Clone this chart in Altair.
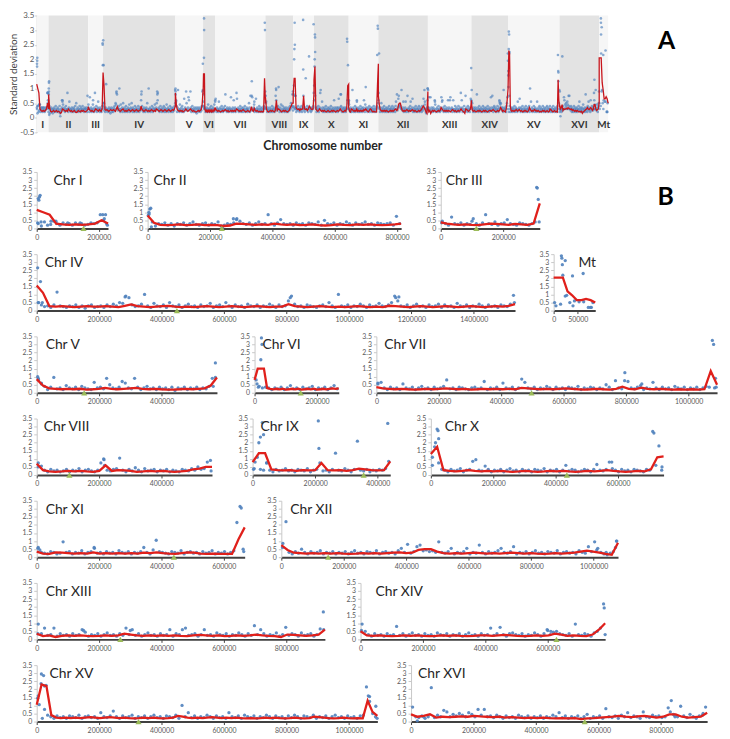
import altair as alt
import pandas as pd

CHROMS = ["I", "II", "III", "IV", "V", "VI", "VII", "VIII", "IX", "X",
          "XI", "XII", "XIII", "XIV", "XV", "XVI", "Mt"]
LEN_KB = [230, 813, 317, 1532, 577, 270, 1091, 563, 440, 746,
          667, 1078, 924, 784, 1091, 948, 86]
CEN_KB = [151, 238, 114, 449, 152, 148, 497, 105, 355, 436,
          440, 150, 268, 628, 326, 556, None]
# width of each chromosome in panel A (window counts)
BAND_W = [12, 40, 15, 73, 28, 12, 51, 28, 21, 35, 30, 50, 44, 37, 52, 40, 9]

# ---- window standard deviations (evenly spaced windows along each chromosome) ----
sd_I = [0.3, 0.15, 0.4, 0.2, 0.25, 0.45, 0.3, 0.2, 0.35, 0.25, 0.3, 0.2, 0.35, 0.25,
        0.3, 0.2, 0.25, 0.35, 0.3, 0.35, 0.85, 0.5, 0.3]
sd_II = [0.9, 0.4, 0.15, 0.3, 0.25, 0.35, 0.2, 0.3, 0.15, 0.3,
         0.25, 0.35, 0.2, 0.3, 0.4, 0.25, 0.2, 0.3, 0.35, 0.2,
         0.3, 0.25, 0.4, 0.15, 0.2, 0.3, 0.25, 0.35, 0.6, 0.45,
         0.3, 0.25, 0.35, 0.2, 0.3, 0.4, 0.25, 0.3, 0.85, 0.3,
         0.2, 0.35, 0.55, 0.3, 0.25, 0.3, 0.2, 0.35, 0.25, 0.3,
         0.2, 0.35, 0.3, 0.25, 0.4, 0.2, 0.5, 0.3, 0.25, 0.35,
         0.2, 0.3, 0.25, 0.4, 0.3, 0.2, 0.35, 0.25, 0.3, 0.4,
         0.25, 0.3, 0.2, 0.35, 0.3, 0.25, 0.3, 0.35, 0.2, 0.75, 0.3]
sd_III = [0.45, 0.3, 0.2, 0.7, 0.3, 0.25, 0.35, 0.2, 0.3, 0.25, 0.6, 0.3, 0.2, 0.35,
          0.85, 0.3, 0.25, 0.4, 0.2, 0.3, 0.35, 0.55, 0.3, 0.25, 0.2, 0.35, 0.3,
          0.25, 0.2, 0.3, 0.4, 1.8]
sd_IV = [0.5, 0.35, 0.25, 0.3, 0.2, 0.35, 1.15, 0.3, 0.25, 0.2,
         0.3, 0.25, 0.35, 0.2, 0.3, 0.15, 0.3, 0.35, 0.2, 0.25,
         0.3, 0.2, 0.35, 0.25, 0.4, 0.3, 0.5, 0.45, 0.9, 0.8,
         0.35, 0.25, 0.3, 0.4, 1.0, 0.3, 0.2, 0.45, 0.3, 0.25,
         0.35, 0.2, 0.5, 0.3, 0.25, 0.35, 0.2, 0.3, 0.4, 0.25,
         0.3, 0.2, 0.35, 0.25, 0.3, 0.45, 0.2, 0.3, 0.35, 0.25,
         0.5, 0.3, 0.2, 0.35, 0.25, 0.3, 0.2, 0.4, 0.3, 0.25,
         0.35, 0.2, 0.3, 0.25, 0.4, 0.3, 0.2, 0.35, 0.25, 0.3,
         0.6, 0.9, 0.4, 0.25, 0.3, 0.2, 0.35, 0.3, 0.25, 0.2,
         0.3, 0.35, 0.25, 0.5, 0.3, 0.2, 1.0, 0.3, 0.25, 0.35,
         0.2, 0.3, 0.25, 0.4, 0.3, 0.2, 0.35, 0.25, 0.3, 0.45,
         0.3, 0.25, 0.35, 0.5, 0.9, 0.6, 0.3, 0.25, 0.35, 0.2,
         0.3, 0.4, 0.25, 0.3, 0.2, 0.35, 0.25, 0.3, 0.4, 0.2,
         0.35, 0.25, 0.3, 0.2, 0.45, 0.3, 0.25, 0.35, 0.2, 0.3,
         0.25, 0.4, 0.3, 0.2, 0.35, 0.25, 0.3, 0.2, 0.35, 0.3,
         0.25, 0.4, 0.95]
sd_V = [0.9, 0.6, 0.4, 0.2, 0.35, 0.95, 0.25, 0.3, 0.2, 0.45,
        0.3, 0.25, 0.35, 0.2, 0.4, 0.3, 0.25, 0.2, 0.65, 0.3,
        0.35, 0.25, 0.9, 0.5, 0.3, 0.25, 0.35, 0.7, 0.6, 0.3,
        0.25, 0.9, 0.35, 0.2, 0.3, 0.4, 0.25, 0.3, 0.2, 0.35,
        0.25, 0.3, 0.2, 0.35, 0.15, 0.3, 0.25, 0.35, 0.2, 0.3,
        0.25, 0.35, 0.2, 0.3, 0.25, 0.4, 0.9, 1.85]
sd_VI = [0.8, 0.4, 0.3, 0.35, 0.3, 0.2, 0.3, 0.25, 0.35, 0.2, 0.3, 0.45, 0.25, 0.3,
         0.2, 0.35, 0.25, 0.3, 0.4, 0.2, 0.3, 0.25, 0.35, 0.2, 0.3, 0.45, 0.25]
sd_VII = [0.6, 0.65, 0.3, 0.2, 0.35, 0.25, 0.3, 0.2, 0.55, 0.3,
          0.25, 0.35, 0.2, 0.3, 0.4, 0.25, 0.3, 0.2, 0.35, 0.25,
          0.3, 0.4, 0.8, 0.25, 0.3, 0.2, 0.35, 0.3, 0.25, 0.2,
          0.3, 0.35, 0.25, 0.3, 0.7, 0.2, 0.3, 0.25, 0.35, 0.2,
          0.6, 0.3, 0.25, 0.35, 0.2, 0.3, 0.85, 0.65, 0.3, 0.25,
          0.35, 0.2, 0.3, 0.25, 0.4, 0.3, 0.2, 0.35, 0.25, 0.3,
          0.2, 0.35, 0.3, 0.25, 0.4, 0.2, 0.3, 0.25, 0.35, 0.3,
          0.2, 0.3, 0.25, 0.5, 0.35, 0.2, 0.75, 0.3, 0.25, 1.25,
          0.7, 0.3, 0.25, 0.35, 0.45, 0.2, 0.3, 0.25, 0.65, 0.3,
          0.2, 0.35, 0.25, 0.3, 0.2, 0.4, 0.3, 0.25, 0.35, 0.2,
          0.3, 0.25, 0.35, 0.2, 0.3, 0.4, 0.35, 3.25, 0.9]
sd_VIII = [0.75, 0.55, 0.3, 0.2, 0.35, 0.25, 0.3, 0.2, 0.25, 0.35,
           0.2, 0.3, 0.25, 0.4, 0.2, 0.3, 0.35, 0.25, 0.2, 0.3,
           0.75, 0.95, 0.3, 0.25, 0.35, 0.4, 1.05, 0.3, 0.2, 0.35,
           0.25, 0.45, 0.3, 0.2, 0.4, 0.25, 0.3, 0.35, 0.2, 0.3,
           0.25, 0.35, 0.2, 0.3, 0.25, 0.2, 0.35, 0.3, 0.25, 0.4,
           0.3, 0.5, 0.35, 0.4, 0.8, 0.9]
sd_IX = [0.4, 1.1, 0.35, 0.3, 0.75, 0.3, 0.2, 0.35, 0.25, 0.3,
         0.4, 0.25, 0.3, 0.2, 0.35, 0.3, 0.25, 0.4, 0.2, 0.3,
         0.35, 0.75, 0.25, 0.3, 0.2, 0.35, 1.35, 0.3, 0.25, 0.4,
         0.3, 0.2, 0.35, 2.1, 0.3, 0.25, 0.35, 0.2, 0.3, 0.25,
         0.35, 0.3, 0.4, 0.85]
sd_X = [1.1, 2.0, 0.75, 0.35, 0.3, 0.2, 0.35, 0.25, 0.3, 0.4,
        0.2, 0.3, 0.35, 0.85, 0.95, 0.3, 0.25, 0.55, 0.35, 0.2,
        0.3, 0.25, 0.35, 0.2, 0.3, 0.4, 0.25, 0.3, 0.2, 0.35,
        0.25, 0.3, 0.2, 0.35, 0.3, 0.25, 0.4, 0.2, 0.3, 0.25,
        0.35, 0.2, 0.3, 0.6, 0.25, 0.35, 0.3, 0.2, 0.25, 0.35,
        0.3, 0.2, 0.35, 0.65, 0.3, 0.25, 0.35, 0.8, 0.4, 0.3,
        0.2, 0.35, 0.25, 0.3, 0.2, 0.35, 0.3, 0.25, 0.2, 0.35,
        0.3, 2.7, 0.6, 1.8, 0.5]
sd_XI = [0.6, 0.3, 0.25, 0.2, 0.35, 0.3, 0.2, 0.25, 0.95, 0.3,
         0.35, 0.2, 0.3, 0.25, 0.4, 0.2, 0.3, 0.35, 0.6, 0.25,
         0.3, 0.2, 0.35, 0.25, 0.3, 0.2, 0.4, 0.3, 0.25, 0.35,
         0.2, 0.3, 0.25, 0.35, 0.6, 0.3, 0.2, 0.45, 1.05, 0.35,
         0.3, 0.25, 0.2, 0.35, 0.3, 0.25, 0.4, 0.2, 0.3, 0.35,
         0.25, 0.3, 0.2, 0.35, 0.25, 0.3, 0.4, 0.2, 0.3, 0.25,
         0.35, 0.2, 0.3, 0.4, 2.15, 3.15, 0.5]
sd_XII = [0.85, 2.2, 0.3, 0.2, 0.35, 0.25, 0.5, 0.3, 0.2, 0.35,
          0.25, 0.3, 0.4, 0.2, 0.3, 0.25, 0.35, 0.2, 0.3, 0.25,
          0.35, 0.2, 0.3, 0.4, 0.25, 0.3, 0.2, 0.35, 0.3, 0.25,
          0.4, 0.2, 0.3, 0.35, 0.25, 0.3, 0.2, 0.4, 0.55, 0.3,
          0.8, 0.25, 0.35, 0.65, 0.75, 0.4, 0.45, 0.35, 0.4, 0.3,
          0.95, 0.3, 0.25, 0.35, 0.55, 0.2, 0.3, 0.25, 0.35, 0.55,
          0.2, 0.3, 0.25, 0.75, 0.3, 0.2, 0.35, 0.25, 0.3, 0.4,
          0.55, 0.3, 0.25, 0.35, 0.65, 0.2, 0.3, 0.25, 0.35, 0.2,
          0.3, 0.4, 0.25, 0.3, 0.2, 0.35, 0.3, 0.25, 0.4, 0.2,
          0.3, 0.35, 0.25, 0.3, 0.2, 0.4, 0.3, 0.25, 0.65, 0.35,
          0.95, 0.55, 0.3, 0.2, 0.15, 0.25, 0.35, 1.0]
sd_XIII = [0.95, 0.35, 0.7, 0.25, 0.3, 0.7, 0.2, 0.35, 0.25, 0.3,
           0.2, 0.35, 0.25, 0.3, 0.6, 0.45, 0.2, 0.3, 0.25, 0.35,
           0.2, 0.3, 0.4, 0.25, 0.3, 0.2, 0.35, 0.25, 0.7, 0.3,
           0.6, 0.25, 0.35, 0.2, 0.3, 0.4, 0.25, 0.3, 0.2, 0.35,
           0.25, 0.3, 0.6, 0.2, 0.35, 0.3, 0.6, 0.7, 0.25, 0.3,
           0.35, 0.2, 0.3, 0.6, 0.25, 0.3, 0.2, 0.4, 0.3, 0.25,
           0.35, 0.2, 0.3, 0.25, 0.4, 0.3, 0.2, 0.35, 0.25, 0.85,
           0.3, 0.6, 0.35, 0.2, 0.3, 0.25, 0.4, 0.2, 0.3, 0.75,
           0.25, 0.35, 0.3, 0.2, 0.4, 0.25, 0.3, 0.35, 0.2, 0.3,
           0.65, 1.7]
sd_XIV = [0.95, 0.5, 0.3, 0.2, 0.35, 0.25, 0.3, 0.2, 0.35, 0.25,
          0.3, 0.8, 0.25, 0.35, 0.2, 0.3, 0.4, 0.25, 0.3, 0.2,
          0.35, 0.25, 0.3, 0.2, 0.4, 0.3, 0.25, 0.35, 0.2, 0.3,
          0.25, 0.35, 0.2, 0.3, 0.4, 0.25, 0.3, 0.2, 0.35, 0.25,
          0.3, 0.7, 0.25, 0.35, 0.75, 0.3, 0.2, 0.35, 0.4, 0.3,
          0.25, 0.35, 0.2, 0.3, 0.25, 0.4, 0.3, 0.2, 0.35, 0.6,
          0.3, 0.45, 0.5, 0.35, 0.3, 0.25, 0.35, 0.2, 0.95, 0.3,
          0.25, 0.35, 0.3, 0.2, 0.4, 0.5, 0.7, 2.2]
sd_XV = [1.6, 2.95, 0.75, 0.4, 0.3, 0.2, 0.35, 0.25, 0.3, 0.2,
         0.35, 0.3, 0.25, 0.4, 0.2, 0.3, 0.35, 0.25, 0.3, 0.2,
         0.55, 0.3, 0.25, 0.35, 0.65, 0.3, 0.2, 0.35, 0.25, 0.3,
         0.4, 0.2, 0.3, 0.25, 0.35, 0.2, 0.3, 0.4, 0.25, 0.3,
         0.2, 0.35, 0.3, 0.25, 0.4, 0.2, 1.0, 0.3, 0.55, 0.25,
         0.35, 0.2, 0.3, 0.25, 0.4, 0.3, 0.2, 0.35, 0.25, 0.3,
         0.2, 0.55, 0.3, 0.25, 0.35, 0.2, 0.4, 0.3, 0.25, 0.35,
         0.2, 0.3, 0.25, 0.4, 0.3, 0.2, 0.35, 0.25, 0.3, 0.2,
         0.35, 0.25, 0.4, 0.3, 0.2, 0.35, 0.3, 0.25, 0.4, 0.2,
         0.3, 0.25, 0.35, 0.2, 0.3, 0.4, 0.25, 0.3, 0.2, 0.35,
         0.25, 0.3, 0.2, 0.35, 0.4, 2.15, 1.55, 0.5, 0.95]
sd_XVI = [0.9, 0.3, 0.25, 0.35, 0.2, 0.3, 2.1, 0.25, 0.4, 0.3,
          0.7, 0.6, 0.3, 0.45, 0.35, 0.5, 0.4, 0.3, 0.55, 0.45,
          0.3, 0.75, 0.4, 0.75, 0.3, 0.35, 0.25, 0.4, 0.3, 0.2,
          0.35, 0.25, 0.3, 0.2, 0.4, 0.3, 0.25, 0.35, 0.2, 0.3,
          0.25, 0.35, 0.2, 0.3, 0.25, 0.4, 0.3, 0.55, 0.25, 0.35,
          0.2, 0.3, 0.25, 0.35, 0.2, 0.3, 0.45, 0.2, 0.3, 0.25,
          0.35, 0.2, 0.8, 0.3, 0.25, 0.35, 0.2, 0.4, 0.3, 0.55,
          0.25, 0.35, 0.3, 0.2, 0.6, 0.3, 0.25, 0.4, 0.3, 0.35,
          0.25, 0.3, 0.85, 1.3, 0.4, 0.3, 0.95, 0.35, 0.25, 0.45,
          0.3, 0.2, 0.35, 0.4, 0.9]
sd_Mt = [0.3, 0.4, 0.9, 0.5, 0.6, 0.55, 0.55, 0.2, 0.5]

# ---- additional windows (kb, sd) that overlap the regular ones ----
ex_I = [(5, 1.85), (7, 1.75), (9, 1.95), (11, 2.05), (3, 0.35), (14, 0.4), (213, 0.85),
        (218, 0.6), (222, 0.85), (228, 0.2), (46, 0.45), (62, 0.45), (100, 0.35), (140, 0.35)]
ex_II = [(4, 1.0), (7, 1.2), (10, 1.25), (2, 0.8), (275, 0.6), (285, 0.55), (12, 0.1), (240, 0.05)]
ex_III = [(3, 0.35), (307, 2.55), (309, 2.5), (315, 0.4), (100, 0.45)]
ex_IV = [(3, 2.65), (12, 1.8), (6, 0.5), (18, 0.5), (283, 0.85), (812, 0.8), (1150, 0.8),
         (1160, 0.85), (1530, 0.5)]
ex_V = [(3, 1.0), (6, 0.8), (15, 0.55), (565, 0.4), (572, 0.95)]
ex_VI = [(20, 2.05), (22, 3.4), (24, 3.0), (8, 0.55), (12, 0.35)]
ex_VII = [(1080, 3.0), (1083, 0.3), (1088, 0.35), (5, 0.55), (795, 0.75), (850, 0.55)]
ex_VIII = [(215, 1.0), (218, 0.6), (560, 0.25), (5, 0.5)]
ex_IX = [(20, 2.0), (25, 2.35), (31, 3.25), (35, 2.5), (210, 3.35), (212, 1.65), (432, 3.2),
         (3, 0.35), (45, 0.75), (8, 0.8)]
ex_X = [(20, 2.85), (23, 2.75), (25, 2.25), (12, 1.75), (715, 2.6), (740, 0.3), (580, 0.8), (5, 0.6)]
ex_XI = [(656, 3.05), (664, 0.35), (4, 0.55), (185, 0.55), (10, 0.45)]
ex_XII = [(4, 0.6), (1074, 1.0), (1070, 0.6), (1010, 0.45), (1040, 0.3)]
ex_XIII = [(4, 0.35), (920, 0.6), (150, 0.55), (300, 0.55)]
ex_XIV = [(781, 1.95), (784, 0.3), (3, 0.55), (600, 0.55), (610, 0.5)]
ex_XV = [(3, 1.45), (8, 1.05), (14, 2.35), (22, 2.85), (30, 2.25), (25, 2.2), (18, 0.2),
         (1062, 1.6), (1066, 1.25), (1085, 0.3), (1090, 0.2)]
ex_XVI = [(20, 0.05), (830, 0.6), (840, 0.45), (845, 0.3), (935, 0.5), (40, 0.3)]
ex_Mt = [(2, 0.5), (16, 3.4), (17, 3.25), (18, 2.85), (24, 3.1), (19, 2.2), (27, 0.95),
         (39, 2.15), (40, 0.3), (61, 2.3), (76, 0.2), (78, 0.2)]

# ---- moving average (red line), evenly spaced from start to end ----
red_I = [1.15, 1.0, 0.85, 0.3, 0.25, 0.22, 0.25, 0.22, 0.25, 0.3, 0.5, 0.3]
red_II = [0.8, 0.35, 0.22, 0.2, 0.22, 0.25, 0.2, 0.22, 0.25, 0.2, 0.22, 0.2, 0.15, 0.18,
          0.3, 0.28, 0.25, 0.22, 0.25, 0.22, 0.3, 0.25, 0.22, 0.25, 0.2, 0.22, 0.25, 0.2,
          0.18, 0.2, 0.25, 0.22, 0.2, 0.25, 0.22, 0.25, 0.22, 0.2, 0.22, 0.25, 0.3]
red_III = [0.38, 0.3, 0.25, 0.22, 0.25, 0.22, 0.2, 0.25, 0.3, 0.28, 0.25, 0.22, 0.28,
           0.25, 0.22, 0.3, 1.55]
red_IV = [1.55, 1.1, 0.28, 0.25, 0.28, 0.25, 0.22, 0.25, 0.28, 0.25,
          0.25, 0.28, 0.25, 0.22, 0.3, 0.38, 0.28, 0.25, 0.22, 0.25,
          0.28, 0.3, 0.25, 0.22, 0.25, 0.22, 0.25, 0.28, 0.25, 0.22,
          0.25, 0.28, 0.25, 0.22, 0.25, 0.28, 0.25, 0.22, 0.25, 0.25,
          0.4, 0.28, 0.25, 0.22, 0.25, 0.28, 0.25, 0.22, 0.25, 0.22,
          0.25, 0.28, 0.25, 0.22, 0.25, 0.22, 0.3, 0.28, 0.25, 0.22,
          0.25, 0.28, 0.25, 0.22, 0.25, 0.28, 0.25, 0.22, 0.25, 0.28,
          0.25, 0.22, 0.25, 0.28, 0.25, 0.3, 0.4]
red_V = [0.85, 0.45, 0.28, 0.25, 0.22, 0.25, 0.22, 0.25, 0.2, 0.22, 0.25, 0.3, 0.25, 0.22,
         0.25, 0.28, 0.3, 0.25, 0.22, 0.25, 0.22, 0.2, 0.2, 0.22, 0.25, 0.22, 0.25, 0.28,
         0.45, 0.95]
red_VI = [0.8, 1.5, 1.5, 1.5, 0.3, 0.25, 0.22, 0.25, 0.22, 0.25, 0.2, 0.22, 0.25, 0.22,
          0.25, 0.2, 0.22, 0.25, 0.22, 0.25, 0.2, 0.22, 0.25, 0.22, 0.25, 0.28, 0.25, 0.28]
red_VII = [0.35, 0.28, 0.25, 0.22, 0.25, 0.22, 0.2, 0.22, 0.25, 0.22,
           0.25, 0.28, 0.25, 0.22, 0.25, 0.2, 0.22, 0.25, 0.22, 0.25,
           0.22, 0.25, 0.22, 0.3, 0.28, 0.25, 0.22, 0.25, 0.22, 0.25,
           0.28, 0.25, 0.22, 0.2, 0.22, 0.25, 0.22, 0.2, 0.25, 0.38,
           0.25, 0.22, 0.32, 0.25, 0.22, 0.25, 0.22, 0.2, 0.22, 0.2,
           0.22, 0.2, 0.22, 1.35, 0.5]
red_VIII = [0.7, 0.3, 0.22, 0.2, 0.22, 0.25, 0.22, 0.25, 0.22, 0.2, 0.25, 0.6, 0.25, 0.3,
            0.28, 0.25, 0.2, 0.22, 0.25, 0.22, 0.25, 0.22, 0.2, 0.22, 0.25, 0.35, 0.4, 0.5, 0.5]
red_IX = [0.8, 1.35, 1.35, 0.35, 0.3, 0.28, 0.3, 0.25, 0.3, 0.28, 0.3, 0.75, 0.3, 0.28,
          0.3, 0.25, 0.3, 0.4, 0.35, 0.3, 0.28, 0.3, 0.85]
red_X = [1.3, 1.75, 0.3, 0.25, 0.22, 0.25, 0.3, 0.25, 0.22, 0.25,
         0.22, 0.25, 0.22, 0.2, 0.22, 0.25, 0.22, 0.2, 0.22, 0.25,
         0.22, 0.25, 0.22, 0.2, 0.22, 0.25, 0.22, 0.25, 0.3, 0.25,
         0.22, 0.2, 0.22, 0.25, 0.22, 0.35, 1.1, 1.15]
red_XI = [0.35, 0.22, 0.2, 0.3, 0.28, 0.25, 0.22, 0.25, 0.22, 0.3,
          0.22, 0.25, 0.22, 0.25, 0.22, 0.25, 0.22, 0.28, 0.25, 0.3,
          0.25, 0.22, 0.2, 0.25, 0.3, 0.28, 0.22, 0.2, 0.22, 0.2,
          0.2, 0.2, 1.1, 1.85]
red_XII = [0.75, 0.45, 0.28, 0.25, 0.22, 0.25, 0.22, 0.25, 0.22, 0.25,
           0.22, 0.2, 0.22, 0.25, 0.22, 0.25, 0.22, 0.25, 0.28, 0.3,
           0.25, 0.28, 0.45, 0.5, 0.5, 0.35, 0.25, 0.22, 0.25, 0.22,
           0.25, 0.28, 0.25, 0.22, 0.25, 0.22, 0.25, 0.28, 0.25, 0.22,
           0.25, 0.22, 0.2, 0.22, 0.25, 0.22, 0.25, 0.28, 0.35, 0.4,
           0.35, 0.28, 0.2, 0.15, 0.9]
red_XIII = [0.35, 0.2, 0.25, 0.15, 0.22, 0.25, 0.22, 0.25, 0.22, 0.2,
            0.22, 0.25, 0.22, 0.25, 0.35, 0.3, 0.25, 0.22, 0.25, 0.22,
            0.25, 0.22, 0.25, 0.22, 0.2, 0.25, 0.28, 0.25, 0.22, 0.25,
            0.2, 0.22, 0.25, 0.22, 0.25, 0.3, 0.25, 0.22, 0.2, 0.15,
            0.3, 0.28, 0.25, 0.22, 0.25, 0.3, 0.6]
red_XIV = [0.5, 0.25, 0.22, 0.25, 0.22, 0.2, 0.22, 0.25, 0.22, 0.25,
           0.22, 0.2, 0.22, 0.25, 0.22, 0.25, 0.22, 0.2, 0.22, 0.25,
           0.25, 0.22, 0.25, 0.28, 0.25, 0.22, 0.2, 0.22, 0.25, 0.22,
           0.25, 0.35, 0.3, 0.22, 0.25, 0.22, 0.2, 0.3, 0.6, 1.0]
red_XV = [1.05, 2.3, 2.2, 0.4, 0.25, 0.22, 0.25, 0.22, 0.25, 0.22,
          0.25, 0.28, 0.25, 0.22, 0.25, 0.28, 0.25, 0.22, 0.25, 0.22,
          0.2, 0.22, 0.25, 0.22, 0.25, 0.22, 0.2, 0.22, 0.25, 0.35,
          0.3, 0.25, 0.22, 0.25, 0.22, 0.25, 0.28, 0.25, 0.22, 0.25,
          0.22, 0.25, 0.22, 0.2, 0.22, 0.2, 0.22, 0.25, 0.22, 0.25,
          0.22, 0.2, 0.22, 0.25, 0.22, 0.2, 0.22, 0.3, 0.28, 0.25,
          0.22, 0.2, 0.22, 0.25, 0.22, 0.2, 0.22, 0.2, 1.3, 0.6, 0.35]
red_XVI = [0.45, 0.3, 0.35, 0.45, 0.25, 0.3, 0.28, 0.3, 0.32, 0.3,
           0.35, 0.32, 0.3, 0.28, 0.3, 0.25, 0.28, 0.25, 0.22, 0.25,
           0.22, 0.25, 0.22, 0.2, 0.22, 0.2, 0.22, 0.15, 0.2, 0.22,
           0.25, 0.28, 0.3, 0.35, 0.3, 0.28, 0.32, 0.35, 0.3, 0.25,
           0.3, 0.45, 0.45, 0.3, 0.25, 0.28, 0.3, 0.55]
red_Mt = [2.05, 2.05, 2.05, 1.2, 0.95, 0.65, 0.65, 0.72, 0.65, 0.5]

SD = {"I": sd_I, "II": sd_II, "III": sd_III, "IV": sd_IV, "V": sd_V, "VI": sd_VI,
      "VII": sd_VII, "VIII": sd_VIII, "IX": sd_IX, "X": sd_X, "XI": sd_XI, "XII": sd_XII,
      "XIII": sd_XIII, "XIV": sd_XIV, "XV": sd_XV, "XVI": sd_XVI, "Mt": sd_Mt}
EX = {"I": ex_I, "II": ex_II, "III": ex_III, "IV": ex_IV, "V": ex_V, "VI": ex_VI,
      "VII": ex_VII, "VIII": ex_VIII, "IX": ex_IX, "X": ex_X, "XI": ex_XI, "XII": ex_XII,
      "XIII": ex_XIII, "XIV": ex_XIV, "XV": ex_XV, "XVI": ex_XVI, "Mt": ex_Mt}
RED = {"I": red_I, "II": red_II, "III": red_III, "IV": red_IV, "V": red_V, "VI": red_VI,
       "VII": red_VII, "VIII": red_VIII, "IX": red_IX, "X": red_X, "XI": red_XI,
       "XII": red_XII, "XIII": red_XIII, "XIV": red_XIV, "XV": red_XV, "XVI": red_XVI,
       "Mt": red_Mt}

# ---- build tables ----
offsets = []
acc = 0
for w in BAND_W:
    offsets.append(acc)
    acc += w
TOTAL_W = acc

pts_rows, red_rows = [], []
for i, c in enumerate(CHROMS):
    L = LEN_KB[i]
    vals = SD[c]
    n = len(vals)
    for k, s in enumerate(vals):
        p = (k + 0.5) * L / n
        pts_rows.append((c, p * 1000, s, offsets[i] + p / L * BAND_W[i]))
    for p, s in EX[c]:
        pts_rows.append((c, p * 1000, s, offsets[i] + p / L * BAND_W[i]))
    r = RED[c]
    m = len(r)
    for k, s in enumerate(r):
        p = k * L / (m - 1)
        red_rows.append((c, p * 1000, s, offsets[i] + p / L * BAND_W[i]))

pts = pd.DataFrame(pts_rows, columns=["chr", "pos", "sd", "gx"])
red = pd.DataFrame(red_rows, columns=["chr", "pos", "sd", "gx"])
bands = pd.DataFrame({
    "chr": CHROMS,
    "x0": offsets,
    "x1": [o + w for o, w in zip(offsets, BAND_W)],
    "xm": [o + w / 2 for o, w in zip(offsets, BAND_W)],
    "shade": ["light" if i % 2 == 0 else "dark" for i in range(len(CHROMS))],
    "ly": [-0.25] * len(CHROMS),
})

FONT = "Lato"
BLUE = "#4f81bd"
RED_C = "#e0201b"

# ---- panel A ----
xA = alt.Scale(domain=[0, TOTAL_W], nice=False, zero=False)
yA = alt.Scale(domain=[-0.5, 3.5], nice=False)
yA_axis = alt.Axis(values=[-0.5, 0, 0.5, 1, 1.5, 2, 2.5, 3, 3.5], labelExpr="'' + datum.value",
                   title="Standard deviation", titleFontSize=10, titleFontWeight="normal",
                   titleColor="#404040", titlePadding=1, labelFontSize=8, labelColor="#595959",
                   labelPadding=1, labelOverlap=False, labelSeparation=0, tickSize=2,
                   tickColor="#c8c8c8", domainColor="#c8c8c8", grid=False)
xA_axis = alt.Axis(labels=False, ticks=False, domain=False, grid=False,
                   title="Chromosome number", titleFontSize=12.5, titleFontWeight="bold",
                   titleColor="#262626", titlePadding=7)

band_layer = alt.Chart(bands).mark_rect().encode(
    x=alt.X("x0:Q", scale=xA, axis=xA_axis),
    x2="x1:Q",
    color=alt.Color("shade:N", scale=alt.Scale(domain=["light", "dark"],
                                               range=["#f6f6f6", "#e3e3e3"]), legend=None),
)
ptsA = alt.Chart(pts).mark_circle(size=7, color=BLUE, opacity=0.65).encode(
    x=alt.X("gx:Q", scale=xA, axis=xA_axis),
    y=alt.Y("sd:Q", scale=yA, axis=yA_axis),
)
redA = alt.Chart(red).mark_line(color="#c8161d", strokeWidth=1.3).encode(
    x=alt.X("gx:Q", scale=xA, axis=xA_axis),
    y=alt.Y("sd:Q", scale=yA, axis=yA_axis),
)
labA = alt.Chart(bands).mark_text(fontSize=10, fontWeight="bold", color="#333333", font=FONT).encode(
    x=alt.X("xm:Q", scale=xA, axis=xA_axis),
    y=alt.Y("ly:Q", scale=yA, axis=yA_axis),
    text="chr:N",
)
letterA = alt.Chart(pd.DataFrame({"t": ["A"]})).mark_text(
    fontSize=25, fontWeight="bold", color="#000000", font=FONT
).encode(x=alt.value(636), y=alt.value(26), text="t:N")

panelA = alt.layer(band_layer, ptsA, redA, labA, letterA).properties(width=577, height=118)

# ---- panel B ----
PX_PER_KB = 0.315
TITLE_DX = {"I": 17, "II": 6, "III": 5, "IV": 8, "V": 9, "VI": 8, "VII": 8, "VIII": 7,
            "IX": 8, "X": 14, "XI": 9, "XII": 9, "XIII": 9, "XIV": 15, "XV": 13, "XVI": 7,
            "Mt": 25}


def panel(c, first=False, extra=None):
    i = CHROMS.index(c)
    L = LEN_KB[i] * 1000
    w = 42 if c == "Mt" else round(LEN_KB[i] * PX_PER_KB)
    if c == "Mt":
        ticks = [0, 50000]
    else:
        ticks = list(range(0, L + 1, 200000))
    xs = alt.Scale(domain=[0, L], nice=False, zero=True)
    ys = alt.Scale(domain=[0, 3.5], nice=False)
    xaxis = alt.Axis(values=ticks, format="d", labelFontSize=7, labelColor="#595959",
                     labelFlush=False, labelOverlap=False, labelPadding=2,
                     domainColor="#404040", domainWidth=2, tickColor="#404040",
                     tickSize=3, grid=False, title=None)
    # first panel of a row gets an invisible one-letter title, as wide as panel A's
    # axis title, so that every row lines up with panel A
    yaxis = alt.Axis(values=[0, 0.5, 1, 1.5, 2, 2.5, 3, 3.5], labelExpr="'' + datum.value",
                     labelFontSize=7, labelColor="#595959", labelPadding=2,
                     labelOverlap=False, labelSeparation=0, domainColor="#c8c8c8",
                     tickColor="#c8c8c8", tickSize=3, grid=False,
                     title="S" if first else None, titleFontSize=10,
                     titleFontWeight="normal", titlePadding=2, titleOpacity=0)
    p = alt.Chart(pts[pts.chr == c]).mark_circle(size=11, color=BLUE, opacity=0.9).encode(
        x=alt.X("pos:Q", scale=xs, axis=xaxis),
        y=alt.Y("sd:Q", scale=ys, axis=yaxis),
    )
    r = alt.Chart(red[red.chr == c]).mark_line(color=RED_C, strokeWidth=2.3).encode(
        x=alt.X("pos:Q", scale=xs, axis=xaxis),
        y=alt.Y("sd:Q", scale=ys, axis=yaxis),
    )
    layers = [p, r]
    if CEN_KB[i] is not None:
        cen = pd.DataFrame({"pos": [CEN_KB[i] * 1000], "sd": [0.0]})
        layers.append(alt.Chart(cen).mark_point(shape="triangle-up", filled=True, size=38,
                                                color="#9bbb59", opacity=1).encode(
            x=alt.X("pos:Q", scale=xs, axis=xaxis), y=alt.Y("sd:Q", scale=ys, axis=yaxis)))
    t = alt.Chart(pd.DataFrame({"t": ["Mt" if c == "Mt" else "Chr " + c]})).mark_text(
        align="left", baseline="middle", fontSize=14, font=FONT, color="#262626"
    ).encode(x=alt.value(TITLE_DX[c]), y=alt.value(9), text="t:N")
    layers.append(t)
    if extra is not None:
        layers.append(extra)
    return alt.layer(*layers).properties(width=w, height=57)


letterB = alt.Chart(pd.DataFrame({"t": ["B"]})).mark_text(
    fontSize=25, fontWeight="bold", color="#000000", font=FONT
).encode(x=alt.value(227), y=alt.value(25), text="t:N")

row_specs = [
    (["I", "II", "III"], 40),
    (["IV", "Mt"], 39),
    (["V", "VI", "VII"], 38),
    (["VIII", "IX", "X"], 41),
    (["XI", "XII"], 37),
    (["XIII", "XIV"], 36),
    (["XV", "XVI"], 34),
]
rows = []
for names, sp in row_specs:
    charts = [panel(n, first=(k == 0), extra=(letterB if n == "III" else None))
              for k, n in enumerate(names)]
    rows.append(alt.hconcat(*charts, spacing=sp, bounds="flush"))

panelB = alt.vconcat(*rows, spacing=10)

chart = alt.vconcat(panelA, panelB, spacing=16).properties(
    padding=0
).configure(font=FONT).configure_view(stroke=None).configure_axis(labelOverlap=False)

chart.save("out.html", embed_options={"renderer": "svg", "actions": False})
